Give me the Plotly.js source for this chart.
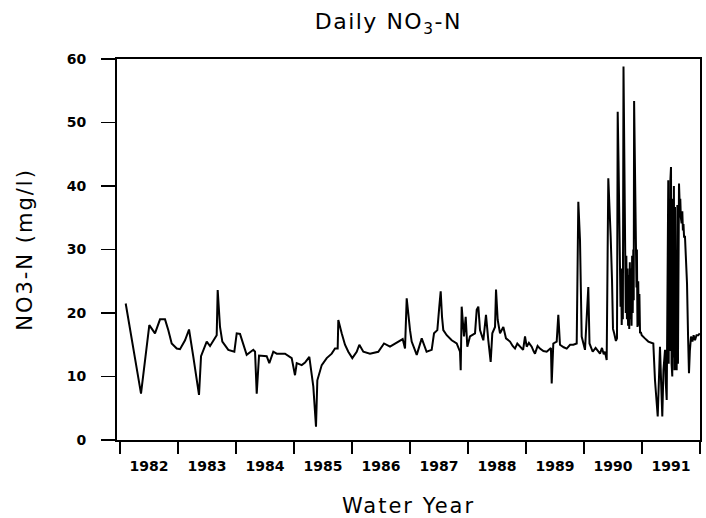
<!DOCTYPE html>
<html>
<head>
<meta charset="utf-8">
<script src="https://cdn.plot.ly/plotly-3.0.1.min.js"></script>
<style>
html,body{margin:0;padding:0;background:#fff;}
#chart{width:706px;height:518px;}
.gtitle{letter-spacing:1.5px;}
.xtitle,.ytitle{letter-spacing:2px;}
</style>
</head>
<body>
<div id="chart"></div>
<script>
// Water-year decimal dates (WY starts Oct 1 => x.75)
const yr = [
1981.848,1982.112,1982.255,1982.353,1982.440,1982.526,1982.583,1982.641,1982.728,1982.784,
1982.871,1982.940,1983.014,1983.112,1983.147,1983.245,1983.302,1983.388,1983.417,1983.434,
1983.457,1983.474,1983.514,1983.617,1983.721,1983.762,1983.819,1983.905,1983.934,1984.048,
1984.078,1984.107,1984.147,1984.279,1984.324,1984.393,1984.452,1984.595,1984.710,1984.767,
1984.797,1984.883,1984.940,1985.014,1985.083,1985.129,1985.152,1985.228,1985.314,1985.400,
1985.457,1985.503,1985.514,1985.572,1985.629,1985.686,1985.755,1985.831,1985.876,1985.945,
1986.060,1986.203,1986.302,1986.405,1986.491,1986.548,1986.624,1986.664,1986.693,1986.750,
1986.779,1986.866,1986.952,1987.036,1987.124,1987.164,1987.221,1987.255,1987.279,1987.302,
1987.324,1987.383,1987.469,1987.555,1987.612,1987.624,1987.641,1987.681,1987.710,1987.738,
1987.784,1987.871,1987.900,1987.928,1987.957,1988.014,1988.060,1988.100,1988.141,1988.169,
1988.216,1988.233,1988.262,1988.302,1988.359,1988.405,1988.474,1988.520,1988.560,1988.600,
1988.647,1988.700,1988.733,1988.762,1988.800,1988.848,1988.880,1988.905,1988.950,1988.991,
1989.050,1989.107,1989.180,1989.193,1989.221,1989.279,1989.307,1989.336,1989.400,1989.452,
1989.510,1989.566,1989.624,1989.652,1989.681,1989.710,1989.767,1989.824,1989.845,1989.900,
1989.950,1990.000,1990.026,1990.060,1990.090,1990.112,1990.141,1990.169,1990.190,1990.210,
1990.233,1990.250,1990.270,1990.300,1990.319,1990.331,1990.345,1990.360,1990.370,1990.380,
1990.390,1990.400,1990.410,1990.420,1990.431,1990.440,1990.450,1990.460,1990.470,1990.480,
1990.490,1990.500,1990.510,1990.520,1990.530,1990.540,1990.550,1990.560,1990.570,1990.580,
1990.590,1990.600,1990.607,1990.614,1990.625,1990.635,1990.647,1990.655,1990.662,1990.672,
1990.685,1990.695,1990.705,1990.716,1990.730,1990.745,1990.800,1990.859,1990.945,1990.974,
1991.021,1991.040,1991.060,1991.080,1991.100,1991.120,1991.147,1991.160,1991.176,1991.203,
1991.210,1991.220,1991.230,1991.240,1991.250,1991.260,1991.272,1991.280,1991.290,1991.300,
1991.310,1991.319,1991.330,1991.348,1991.360,1991.370,1991.380,1991.388,1991.400,1991.410,
1991.420,1991.433,1991.445,1991.455,1991.465,1991.475,1991.491,1991.510,1991.526,1991.545,
1991.560,1991.575,1991.595,1991.620,1991.640,1991.664,1991.690,1991.721,1991.745
];
const no3 = [
21.5,7.3,18.1,16.8,19.0,19.0,17.3,15.2,14.4,14.3,
15.7,17.4,13.1,7.1,13.2,15.5,14.8,16.0,16.5,23.6,
20.5,17.8,15.5,14.2,13.9,16.8,16.7,14.4,13.4,14.2,
13.9,7.3,13.3,13.2,12.1,13.9,13.6,13.6,12.9,10.2,
12.1,11.8,12.2,13.1,8.4,2.1,9.4,11.8,12.9,13.6,
14.4,14.4,18.9,16.8,15.0,13.9,12.9,13.9,15.0,13.9,
13.6,13.9,15.2,14.7,15.2,15.5,15.9,14.4,22.3,17.3,
15.5,13.4,16.0,13.9,14.2,16.8,17.3,21.0,23.4,19.4,
17.3,16.5,15.7,15.2,13.9,11.0,21.0,16.3,19.4,14.7,
16.3,16.8,20.5,21.0,17.3,15.7,19.7,15.7,12.3,16.8,
17.8,23.7,18.9,16.8,17.8,16.0,15.5,14.8,14.4,15.2,
14.7,14.2,16.3,14.7,15.3,14.7,14.0,13.6,14.8,14.4,
14.0,13.9,14.5,8.9,15.2,15.5,19.7,15.0,14.6,14.4,
15.0,15.0,15.2,37.5,31.5,16.3,14.2,24.1,15.2,13.9,
14.5,13.8,13.6,14.5,13.5,13.9,12.6,41.2,37.0,32.0,
25.2,17.5,16.8,15.6,16.0,51.7,44.0,36.0,29.0,21.0,
27.0,18.1,23.0,19.0,58.8,48.0,38.0,28.0,20.0,29.0,
19.0,27.0,18.0,26.0,17.5,28.0,19.0,27.0,18.0,29.0,
20.0,30.0,22.0,53.4,46.0,39.0,33.0,24.0,30.0,17.8,
25.0,18.0,23.0,16.8,17.0,16.5,16.0,15.5,15.2,9.4,
3.7,10.0,14.7,9.0,3.7,11.0,14.2,9.0,6.3,40.9,
12.0,38.0,14.0,41.0,43.0,12.0,10.0,38.0,13.0,40.0,
11.0,36.7,12.0,11.0,37.0,12.0,39.0,40.4,37.0,38.0,
35.0,34.1,36.0,33.0,34.0,32.0,32.0,28.0,24.7,16.0,
10.5,14.0,16.3,15.5,16.5,15.7,16.5,16.5,16.8
];
const yearLabels = ['1982','1983','1984','1985','1986','1987','1988','1989','1990','1991',''];
const yearStarts = [1981.75,1982.75,1983.75,1984.75,1985.75,1986.75,1987.75,1988.75,1989.75,1990.75,1991.75];
const yTicks = [0,10,20,30,40,50,60];

const trace = {
  x: yr, y: no3, type: 'scatter', mode: 'lines',
  line: {color: '#000', width: 2}, hoverinfo: 'skip'
};
const layout = {
  width: 706, height: 518,
  margin: {l: 117, r: 6, t: 59, b: 78},
  paper_bgcolor: '#fff', plot_bgcolor: '#fff',
  showlegend: false,
  font: {family: 'DejaVu Sans, sans-serif', color: '#000'},
  title: {
    text: 'Daily NO<sub>3</sub>-N',
    font: {size: 22, color: '#000', family: 'DejaVu Sans, sans-serif'},
    x: 0.55, xref: 'container', xanchor: 'center',
    y: 0.958, yref: 'container', yanchor: 'middle'
  },
  xaxis: {
    range: [1981.698, 1991.75],
    tickmode: 'array', tickvals: yearStarts, ticktext: yearLabels,
    ticks: 'outside', ticklen: 12, tickwidth: 1.5, tickcolor: '#000',
    ticklabelshift: 29,
    tickfont: {size: 14, family: 'DejaVu Sans, sans-serif', weight: 'bold', color: '#000'},
    showline: true, linecolor: '#000', linewidth: 2, mirror: true,
    showgrid: false, zeroline: false,
    title: {text: 'Water Year', font: {size: 21, color: '#000'}, standoff: 26}
  },
  yaxis: {
    range: [0, 60],
    tickmode: 'array', tickvals: yTicks,
    ticks: 'outside', ticklen: 14, tickwidth: 1.5, tickcolor: '#000',
    ticklabelstandoff: 12,
    tickfont: {size: 14, family: 'DejaVu Sans, sans-serif', weight: 'bold', color: '#000'},
    showline: true, linecolor: '#000', linewidth: 2, mirror: true,
    showgrid: false, zeroline: false,
    title: {text: 'NO3-N (mg/l)', font: {size: 21, color: '#000'}, standoff: 28}
  }
};
Plotly.newPlot('chart', [trace], layout, {displayModeBar: false, staticPlot: true});
</script>
</body>
</html>
